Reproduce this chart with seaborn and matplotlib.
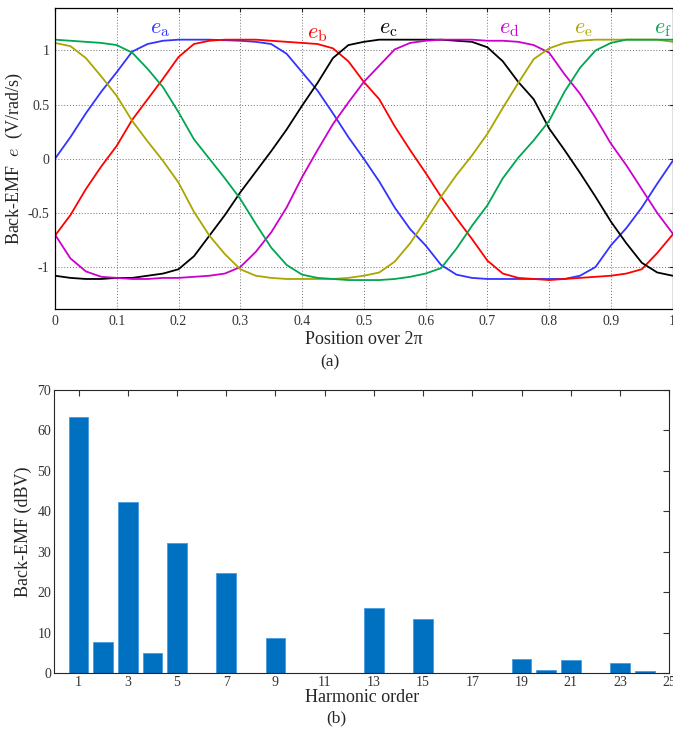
import numpy as np
import pandas as pd
import matplotlib
matplotlib.use("Agg")
import matplotlib.pyplot as plt
import seaborn as sns

# ---------------- data: panel (a) back-EMF waveforms ----------------
position = [0.0, 0.025, 0.05, 0.075, 0.1, 0.125, 0.15, 0.175, 0.2, 0.225, 0.25,
            0.275, 0.3, 0.325, 0.35, 0.375, 0.4, 0.425, 0.45, 0.475, 0.5,
            0.525, 0.55, 0.575, 0.6, 0.625, 0.65, 0.675, 0.7, 0.725, 0.75,
            0.775, 0.8, 0.825, 0.85, 0.875, 0.9, 0.925, 0.95, 0.975, 1.0]

e_a = [0.0, 0.2, 0.42, 0.62, 0.8, 0.99, 1.06, 1.09, 1.1, 1.1, 1.1,
       1.095, 1.09, 1.08, 1.06, 0.97, 0.8, 0.63, 0.42, 0.2, 0.0,
       -0.21, -0.45, -0.65, -0.8, -0.98, -1.07, -1.1, -1.11, -1.11, -1.11,
       -1.11, -1.11, -1.11, -1.08, -1.0, -0.8, -0.64, -0.45, -0.23, -0.02]
e_b = [-0.71, -0.52, -0.28, -0.07, 0.12, 0.36, 0.55, 0.74, 0.94, 1.06, 1.09,
       1.1, 1.1, 1.1, 1.09, 1.08, 1.07, 1.06, 1.02, 0.9, 0.71,
       0.55, 0.3, 0.08, -0.13, -0.35, -0.55, -0.74, -0.94, -1.06, -1.1,
       -1.11, -1.12, -1.11, -1.1, -1.09, -1.08, -1.06, -1.02, -0.87, -0.7]
e_c = [-1.08, -1.1, -1.11, -1.11, -1.1, -1.1, -1.08, -1.06, -1.02, -0.9, -0.71,
       -0.52, -0.31, -0.12, 0.07, 0.27, 0.49, 0.7, 0.93, 1.05, 1.08,
       1.1, 1.1, 1.1, 1.1, 1.1, 1.09, 1.08, 1.03, 0.9, 0.71,
       0.55, 0.28, 0.08, -0.13, -0.35, -0.58, -0.78, -0.96, -1.05, -1.08]
e_d = [-0.7, -0.92, -1.04, -1.09, -1.1, -1.11, -1.11, -1.1, -1.1, -1.09, -1.08,
       -1.06, -1.0, -0.86, -0.68, -0.45, -0.17, 0.08, 0.32, 0.52, 0.71,
       0.86, 1.01, 1.07, 1.09, 1.1, 1.1, 1.1, 1.09, 1.09, 1.08,
       1.05, 0.98, 0.78, 0.6, 0.38, 0.14, -0.06, -0.28, -0.5, -0.69]
e_e = [1.07, 1.04, 0.93, 0.76, 0.58, 0.35, 0.16, -0.02, -0.22, -0.49, -0.71,
       -0.88, -1.02, -1.08, -1.1, -1.11, -1.11, -1.11, -1.11, -1.1, -1.08,
       -1.05, -0.95, -0.78, -0.57, -0.35, -0.15, 0.03, 0.23, 0.47, 0.7,
       0.92, 1.02, 1.07, 1.09, 1.1, 1.1, 1.1, 1.1, 1.1, 1.08]
e_f = [1.1, 1.09, 1.08, 1.07, 1.05, 0.98, 0.83, 0.66, 0.43, 0.18, 0.0,
       -0.18, -0.37, -0.6, -0.82, -0.98, -1.07, -1.1, -1.11, -1.12, -1.12,
       -1.12, -1.11, -1.09, -1.06, -1.01, -0.83, -0.62, -0.43, -0.18, 0.01,
       0.17, 0.35, 0.62, 0.84, 1.0, 1.07, 1.1, 1.1, 1.1, 1.1]

phase_names = ["a", "b", "c", "d", "e", "f"]
phase_colors = ["#3333ff", "#ff0000", "#000000", "#cc00cc", "#aaa500", "#00a651"]
label_x = [0.17, 0.425, 0.54, 0.735, 0.855, 0.985]
label_y = [1.19, 1.15, 1.19, 1.19, 1.19, 1.19]

# ---------------- data: panel (b) harmonic spectrum ----------------
harmonic_order = [1, 2, 3, 4, 5, 7, 9, 13, 15, 19, 20, 21, 23, 24]
harmonic_dbv = [63.3, 7.8, 42.3, 4.9, 32.1, 24.7, 8.7, 16.1, 13.3, 3.5, 0.7, 3.2, 2.5, 0.6]

# ---------------- styling ----------------
sns.set_style("white")
plt.rcParams["font.family"] = ["Liberation Serif", "DejaVu Serif"]
plt.rcParams["mathtext.fontset"] = "cm"
plt.rcParams["axes.unicode_minus"] = False

fig = plt.figure(figsize=(6.73, 7.38), dpi=100)

# ---------------- panel (a) ----------------
ax1 = fig.add_axes([0.0817, 0.5809, 0.9178, 0.4079])
wave = pd.DataFrame({
    "position": position * 6,
    "emf": e_a + e_b + e_c + e_d + e_e + e_f,
    "phase": sum([[p] * len(position) for p in phase_names], []),
})
sns.lineplot(data=wave, x="position", y="emf", hue="phase",
             palette=dict(zip(phase_names, phase_colors)),
             estimator=None, sort=False, linewidth=1.3, legend=False, ax=ax1)
for ln in ax1.get_lines():
    ln.set_solid_joinstyle("round")
ax1.set_xlim(0, 1)
ax1.set_ylim(-1.39, 1.39)
ax1.set_xticks([0, 0.1, 0.2, 0.3, 0.4, 0.5, 0.6, 0.7, 0.8, 0.9, 1.0])
ax1.set_xticklabels(["0", "0.1", "0.2", "0.3", "0.4", "0.5", "0.6", "0.7", "0.8", "0.9", "1"])
ax1.set_yticks([-1, -0.5, 0, 0.5, 1])
ax1.set_yticklabels(["-1", "-0.5", "0", "0.5", "1"])
ax1.grid(True, linestyle=(0, (1, 2)), color="#707070", linewidth=0.7)
ax1.tick_params(direction="in", top=True, right=True, length=3, labelsize=10,
                labelcolor="#333333", pad=4)
for s in ax1.spines.values():
    s.set_color("black")
    s.set_linewidth(0.9)
ax1.set_xlabel("Position over 2\u03c0", fontsize=13, labelpad=2)
ax1.set_ylabel("Back-EMF  $e$  (V/rad/s)", fontsize=13, labelpad=2)
for name, col, lx, ly in zip(phase_names, phase_colors, label_x, label_y):
    ax1.text(lx, ly, r"$e_{\mathrm{%s}}$" % name, color=col, fontsize=16,
             ha="center", va="center")
fig.text(0.4903, 0.509, "(a)", fontsize=12.5, ha="center", va="center")

# ---------------- panel (b) ----------------
ax2 = fig.add_axes([0.0802, 0.0877, 0.9143, 0.3838])
spec = pd.DataFrame({"order": harmonic_order, "dbv": harmonic_dbv})
sns.barplot(data=spec, x="order", y="dbv", native_scale=True, width=0.8,
            color="#0070c0", saturation=1, edgecolor="#4a9be0", linewidth=0.6,
            ax=ax2)
ax2.set_xlim(0, 25)
ax2.set_ylim(0, 70)
ax2.set_xticks(list(range(1, 26, 2)))
ax2.set_xticklabels([str(v) for v in range(1, 26, 2)])
ax2.set_yticks(list(range(0, 71, 10)))
ax2.tick_params(direction="in", top=True, right=True, length=4, labelsize=10,
                labelcolor="#333333", color="#333333", pad=2)
for s in ax2.spines.values():
    s.set_color("#262626")
    s.set_linewidth(0.8)
ax2.set_xlabel("Harmonic order", fontsize=13, labelpad=0)
ax2.set_ylabel("Back-EMF (dBV)", fontsize=13, labelpad=4)
fig.text(0.4993, 0.027, "(b)", fontsize=12.5, ha="center", va="center")

fig.savefig("out.png", dpi=100)
